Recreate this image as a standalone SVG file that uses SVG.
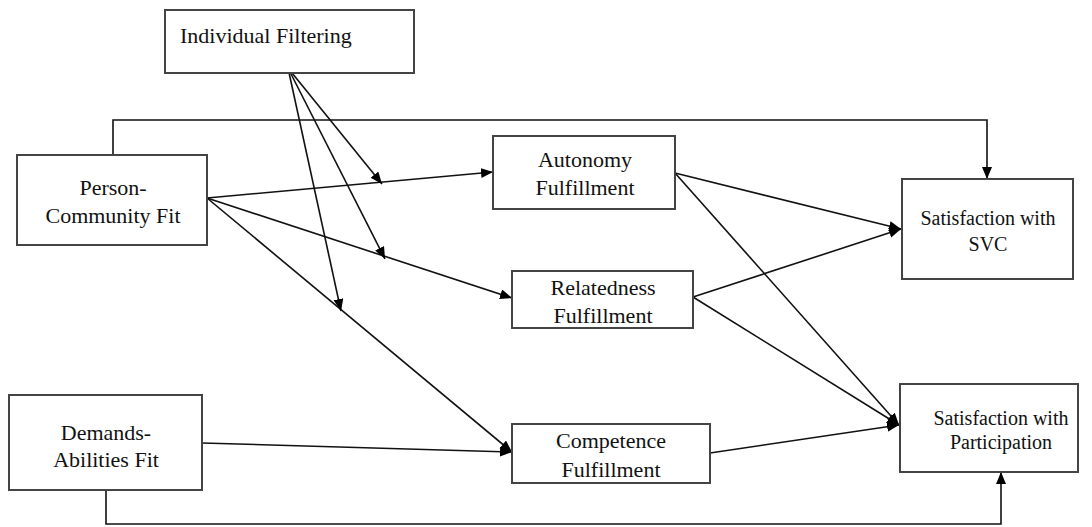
<svg xmlns="http://www.w3.org/2000/svg" width="1092" height="527" viewBox="0 0 1092 527">
<defs>
<marker id="ah" markerUnits="userSpaceOnUse" markerWidth="13" markerHeight="11" refX="12" refY="5" orient="auto">
<path d="M0,0 L12,5 L0,10 z" fill="#000"/>
</marker>
<style>
.box{fill:#fff;stroke:#444;stroke-width:2}
.t{font-family:"Liberation Serif","Times New Roman",serif;font-size:22px;fill:#111;text-anchor:middle}
.s{font-size:20px}
.c{fill:none;stroke:#111;stroke-width:1.6}
.a{marker-end:url(#ah)}
</style>
</defs>
<rect width="1092" height="527" fill="#fff"/>
<g id="connectors">
<polyline class="c a" points="113,155 113,120 987,120 987,179"/>
<polyline class="c a" points="106,490 106,524 1001,524 1001,472"/>
<line class="c a" x1="207" y1="198" x2="493" y2="172"/>
<line class="c a" x1="207" y1="198" x2="512" y2="298"/>
<line class="c a" x1="207" y1="198" x2="512" y2="452"/>
<line class="c a" x1="202" y1="443" x2="512" y2="452"/>
<line class="c a" x1="288" y1="68" x2="382" y2="184"/>
<line class="c a" x1="288" y1="68" x2="385" y2="259"/>
<line class="c a" x1="288" y1="68" x2="341" y2="311"/>
<line class="c a" x1="675" y1="173" x2="901" y2="229"/>
<line class="c a" x1="675" y1="173" x2="899" y2="425"/>
<line class="c a" x1="693" y1="297" x2="901" y2="229"/>
<line class="c a" x1="693" y1="297" x2="899" y2="425"/>
<line class="c a" x1="710" y1="453" x2="899" y2="425"/>
</g>
<g id="individual-filtering">
<rect class="box" x="165" y="10" width="249" height="63"/>
<text class="t" x="180" y="43" style="text-anchor:start">Individual Filtering</text>
</g>
<g id="person-community-fit">
<rect class="box" x="17" y="155" width="190" height="90"/>
<text class="t" x="113" y="195">Person-</text>
<text class="t" x="113" y="223">Community Fit</text>
</g>
<g id="demands-abilities-fit">
<rect class="box" x="9" y="395" width="193" height="95"/>
<text class="t" x="106" y="440">Demands-</text>
<text class="t" x="106" y="467">Abilities Fit</text>
</g>
<g id="autonomy">
<rect class="box" x="493" y="136" width="182" height="73"/>
<text class="t" x="585" y="167">Autonomy</text>
<text class="t" x="585" y="195">Fulfillment</text>
</g>
<g id="relatedness">
<rect class="box" x="512" y="271" width="181" height="57"/>
<text class="t" x="603" y="295">Relatedness</text>
<text class="t" x="603" y="323">Fulfillment</text>
</g>
<g id="competence">
<rect class="box" x="512" y="424" width="198" height="59"/>
<text class="t" x="611" y="448">Competence</text>
<text class="t" x="611" y="477">Fulfillment</text>
</g>
<g id="satisfaction-svc">
<rect class="box" x="902" y="179" width="171" height="100"/>
<text class="t s" x="988" y="225">Satisfaction with</text>
<text class="t s" x="988" y="251">SVC</text>
</g>
<g id="satisfaction-participation">
<rect class="box" x="900" y="384" width="178" height="88"/>
<text class="t s" x="1001" y="425">Satisfaction with</text>
<text class="t s" x="1001" y="449">Participation</text>
</g>
</svg>
